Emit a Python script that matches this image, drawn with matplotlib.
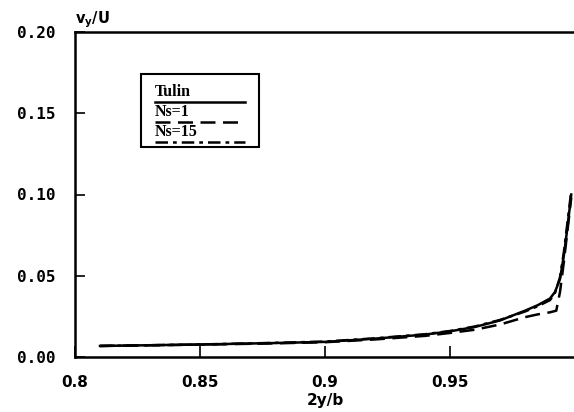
import matplotlib
matplotlib.use('Agg')

import numpy as np
import matplotlib.pyplot as plt
from matplotlib.patches import Rectangle

# spanwise position 2y/b and induced velocity vy/U
x_tulin = [0.81, 0.85, 0.88, 0.90, 0.92, 0.94, 0.95, 0.96, 0.97, 0.98, 0.985, 0.99, 0.992, 0.994, 0.9955, 0.997, 0.9985]
y_tulin = [0.0068, 0.0077, 0.0086, 0.0093, 0.0113, 0.0138, 0.0158, 0.0185, 0.0225, 0.0285, 0.0318, 0.0360, 0.0400, 0.0480, 0.0620, 0.0800, 0.1000]

x_ns1 = [0.81, 0.85, 0.88, 0.90, 0.92, 0.94, 0.95, 0.96, 0.97, 0.98, 0.985, 0.99, 0.9925, 0.994, 0.9955, 0.997, 0.9985]
y_ns1 = [0.0068, 0.0076, 0.0084, 0.0091, 0.0108, 0.0130, 0.0148, 0.0168, 0.0200, 0.0245, 0.0262, 0.0275, 0.0285, 0.0400, 0.0580, 0.0780, 0.0980]

x_ns15 = [0.81, 0.85, 0.88, 0.90, 0.92, 0.94, 0.95, 0.96, 0.97, 0.98, 0.985, 0.99, 0.992, 0.994, 0.9955, 0.997, 0.9985]
y_ns15 = [0.0068, 0.0077, 0.0087, 0.0095, 0.0115, 0.0140, 0.0160, 0.0188, 0.0228, 0.0280, 0.0312, 0.0350, 0.0395, 0.0490, 0.0640, 0.0830, 0.1020]

xticks = [0.8, 0.85, 0.9, 0.95]
xticklabels = ['0.8', '0.85', '0.9', '0.95']
yticks = [0.0, 0.05, 0.10, 0.15, 0.20]
yticklabels = ['0.00', '0.05', '0.10', '0.15', '0.20']
legend_names = ['Tulin', 'Ns=1', 'Ns=15']

fig = plt.figure(figsize=(5.74, 4.12), dpi=100)
ax = fig.add_axes([75/574, 55/412, 500/574, 325/412])

lw = 1.8
ax.plot(x_tulin, y_tulin, color='black', lw=lw, ls='-')
ax.plot(x_ns1, y_ns1, color='black', lw=lw, ls=(0, (6, 3)))
ax.plot(x_ns15, y_ns15, color='black', lw=lw, ls=(0, (5, 2, 1.5, 2)))

ax.set_xlim(0.8, 1.0)
ax.set_ylim(0.0, 0.20)
ax.set_xticks(xticks)
ax.set_xticklabels(xticklabels, fontweight='bold', fontsize=11, family='DejaVu Sans')
ax.set_yticks(yticks)
ax.set_yticklabels(yticklabels, fontweight='bold', fontsize=11.5, family='DejaVu Sans Mono')
ax.tick_params(axis='x', direction='in', length=8, width=1.2, pad=13)
ax.tick_params(axis='y', direction='in', length=7, width=1.2, pad=14)
ax.spines['right'].set_visible(False)
for s in ['left', 'bottom', 'top']:
    ax.spines[s].set_linewidth(1.8)

ax.set_xlabel('2y/b', fontweight='bold', fontsize=11, labelpad=2)
ax.text(0.0, 1.005, r'$\mathbf{v_y/U}$', transform=ax.transAxes, ha='left', va='bottom',
        fontsize=10.5, family='DejaVu Serif')

# hand-made legend: names above their line samples, inside a box
ax.add_patch(Rectangle((0.132, 0.646), 0.236, 0.225, transform=ax.transAxes,
                       fill=False, lw=1.5, ec='black', zorder=5))
styles = ['-', (0, (6, 3)), (0, (5, 2, 1.5, 2))]
text_y = [0.815, 0.753, 0.692]
line_y = [0.785, 0.723, 0.662]
for name, st, ty, ly in zip(legend_names, styles, text_y, line_y):
    ax.text(0.160, ty, name, transform=ax.transAxes, fontsize=11.5, fontweight='bold',
            family='Liberation Serif', va='center', ha='left')
    ax.plot([0.160, 0.34], [ly, ly], transform=ax.transAxes, color='black', lw=lw, ls=st)

plt.savefig('out.png', dpi=100)
